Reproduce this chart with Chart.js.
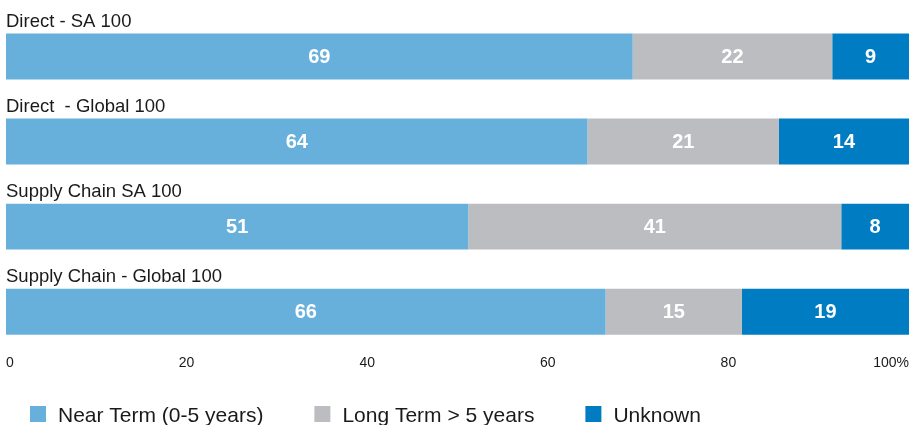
<!DOCTYPE html>
<html>
<head>
<meta charset="utf-8">
<script src="https://cdn.jsdelivr.net/npm/chart.js@4.4.1/dist/chart.umd.min.js"></script>
<style>
  html, body { margin: 0; padding: 0; background: #fff; }
  #wrap { width: 910px; height: 425px; }
</style>
</head>
<body>
<div id="wrap"><canvas id="horizonChart"></canvas></div>
<script>
const categories = ["Direct - SA 100", "Direct  - Global 100", "Supply Chain SA 100", "Supply Chain - Global 100"];
// shares as measured from the bar lengths; the printed labels are these rounded
const nearTerm = [69.4, 64.4, 51.2, 66.4];
const longTerm = [22.1, 21.2, 41.3, 15.1];
const unknown = [8.5, 14.4, 7.5, 18.5];
const tickLabels = { 0: "0", 20: "20", 40: "40", 60: "60", 80: "80", 100: "100%" };

const FONT = "'Liberation Sans', Arial, Helvetica, sans-serif";

// category names sit above each bar, value labels in the middle of segments
const barLabels = {
  id: "barLabels",
  afterDatasetsDraw(chart) {
    const ctx = chart.ctx;
    const left = chart.chartArea.left;
    ctx.save();
    const first = chart.getDatasetMeta(0);
    ctx.fillStyle = "#1a1a1a";
    ctx.font = "18.5px " + FONT;
    ctx.textAlign = "left";
    ctx.textBaseline = "alphabetic";
    first.data.forEach((bar, i) => {
      ctx.fillText(chart.data.labels[i], left, bar.y - bar.height / 2 - 7);
    });

    ctx.fillStyle = "#ffffff";
    ctx.font = "bold 20px " + FONT;
    ctx.textAlign = "center";
    ctx.textBaseline = "middle";
    chart.data.datasets.forEach((ds, d) => {
      chart.getDatasetMeta(d).data.forEach((bar, i) => {
        const cx = (bar.x + bar.base) / 2;
        ctx.fillText(String(Math.round(ds.data[i])), cx, bar.y + 1);
      });
    });
    ctx.restore();
  }
};

const bottomLegend = {
  id: "bottomLegend",
  afterDraw(chart) {
    const ctx = chart.ctx;
    ctx.save();
    ctx.font = "21px " + FONT;
    ctx.textBaseline = "alphabetic";
    ctx.textAlign = "left";
    let x = 30;
    const y = 422;
    chart.data.datasets.forEach(ds => {
      ctx.fillStyle = ds.backgroundColor;
      ctx.fillRect(x, y - 16, 16, 16);
      ctx.fillStyle = "#1a1a1a";
      ctx.fillText(ds.label, x + 28, y);
      x += 28 + ctx.measureText(ds.label).width + 51;
    });
    ctx.restore();
  }
};

const config = {
  type: "bar",
  data: {
    labels: categories,
    datasets: [
      { label: "Near Term (0-5 years)", data: nearTerm, backgroundColor: "#68b0dc" },
      { label: "Long Term > 5 years", data: longTerm, backgroundColor: "#bcbdc0" },
      { label: "Unknown", data: unknown, backgroundColor: "#007cc3" }
    ]
  },
  options: {
    indexAxis: "y",
    responsive: true,
    maintainAspectRatio: false,
    animation: false,
    layout: { padding: { left: 6, right: 0, top: 14, bottom: 52 } },
    datasets: {
      bar: { categoryPercentage: 1, barPercentage: 0.54, borderWidth: 0 }
    },
    scales: {
      x: {
        stacked: true,
        min: 0,
        max: 100,
        grid: { display: false, drawTicks: false },
        border: { display: false },
        ticks: {
          stepSize: 20,
          align: "inner",
          padding: 1,
          color: "#1a1a1a",
          font: { family: FONT, size: 14 },
          callback: v => tickLabels[v]
        }
      },
      y: {
        stacked: true,
        display: false
      }
    },
    plugins: {
      legend: { display: false },
      tooltip: { enabled: false }
    }
  },
  plugins: [barLabels, bottomLegend]
};

const canvas = document.getElementById("horizonChart");
if (canvas) {
  new Chart(canvas, config);
} else {
  console.error("Canvas element not found");
}
</script>
</body>
</html>
